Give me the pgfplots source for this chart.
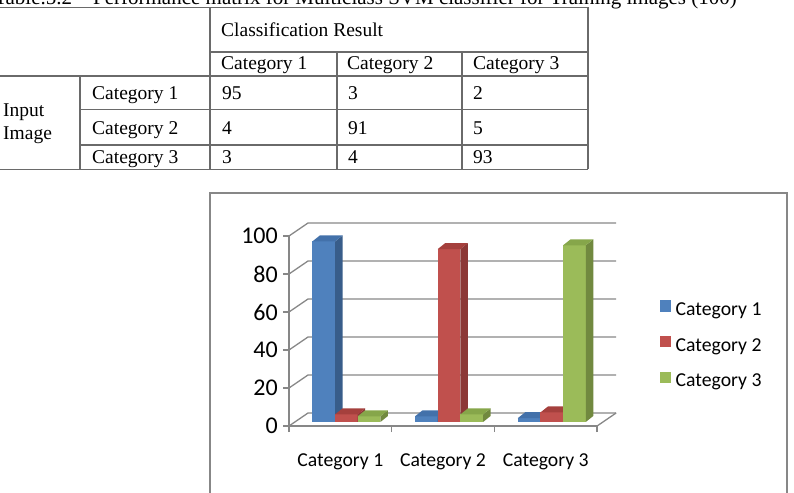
\documentclass[border=0pt]{standalone}
\usepackage{pgfplots}
\pgfplotsset{compat=1.18}
\usepackage{fontspec}
\setmainfont{Liberation Serif}
\newfontfamily\calfont{Carlito}
\newcommand\tabfont{\fontsize{19.5}{22.5}\selectfont}

\definecolor{cA}{HTML}{4F81BD}
\definecolor{cAs}{HTML}{385D8A}
\definecolor{cAt}{HTML}{4371AA}
\definecolor{cB}{HTML}{C0504D}
\definecolor{cBs}{HTML}{8C3836}
\definecolor{cBt}{HTML}{A5403D}
\definecolor{cC}{HTML}{9BBB59}
\definecolor{cCs}{HTML}{71893F}
\definecolor{cCt}{HTML}{86A64A}
\definecolor{gridc}{HTML}{878787}
\definecolor{tabc}{HTML}{6A6A6A}

% 3D prism drawn as plot mark at each data point (bar top on front plane)
\newcommand\prism[4]{%
  \pgfmathsetmacro\ph{\rawy*1.9}%
  \pgfmathsetmacro\pL{#4-11.35+6}%
  \pgfmathsetmacro\pR{#4+11.35+6}%
  \pgfmathsetmacro\pB{4-\ph}%
  \pgfsetfillcolor{#1}%
  \pgfpathrectanglecorners{\pgfpoint{\pL pt}{\pB pt}}{\pgfpoint{\pR pt}{4pt}}%
  \pgfusepath{fill}%
  \pgfsetfillcolor{#2}%
  \pgfpathmoveto{\pgfpoint{\pR pt}{4pt}}%
  \pgfpathlineto{\pgfpoint{\pR pt+7.5pt}{10pt}}%
  \pgfpathlineto{\pgfpoint{\pR pt+7.5pt}{\pB pt+6pt}}%
  \pgfpathlineto{\pgfpoint{\pR pt}{\pB pt}}%
  \pgfpathclose\pgfusepath{fill}%
  \pgfsetfillcolor{#3}%
  \pgfpathmoveto{\pgfpoint{\pL pt}{4pt}}%
  \pgfpathlineto{\pgfpoint{\pL pt+7.5pt}{10pt}}%
  \pgfpathlineto{\pgfpoint{\pR pt+7.5pt}{10pt}}%
  \pgfpathlineto{\pgfpoint{\pR pt}{4pt}}%
  \pgfpathclose\pgfusepath{fill}%
}
\pgfdeclareplotmark{prismA}{\prism{cA}{cAs}{cAt}{-22.7}}
\pgfdeclareplotmark{prismB}{\prism{cB}{cBs}{cBt}{0}}
\pgfdeclareplotmark{prismC}{\prism{cC}{cCs}{cCt}{22.7}}

\begin{document}
\begin{tikzpicture}
\useasboundingbox (0pt,0pt) rectangle (794pt,492pt);
\clip (0pt,0pt) rectangle (794pt,492pt);
% caption (cut at top, as in the reference)
\node[anchor=base east, inner sep=0pt, font=\fontsize{21}{24}\selectfont] at (737pt,487pt)
  {Table.5.2 – Performance matrix for Multiclass SVM classifier for Training images (100)};
% table rules
\begin{scope}[tabc, line width=1.1pt]
\draw (0pt,484.5pt) -- (588pt,484.5pt);
\draw (210pt,440pt) -- (588pt,440pt);
\draw (0pt,416pt) -- (588pt,416pt);
\draw (80pt,382.5pt) -- (588pt,382.5pt);
\draw (80pt,347pt) -- (588pt,347pt);
\draw (0pt,322.7pt) -- (588pt,322.7pt);
\draw (80pt,416pt) -- (80pt,322.7pt);
\draw (210pt,484.5pt) -- (210pt,322.7pt);
\draw (337pt,440pt) -- (337pt,322.7pt);
\draw (462pt,440pt) -- (462pt,322.7pt);
\draw (588pt,484.5pt) -- (588pt,322.7pt);
\end{scope}
\begin{scope}[every node/.style={anchor=base west, inner sep=0pt, font=\tabfont}]
\node at (221pt,455pt) {Classification Result};
\node at (221pt,422pt) {Category 1};
\node at (347pt,422pt) {Category 2};
\node at (473pt,422pt) {Category 3};
\node at (3pt,375pt) {Input};
\node at (3pt,352pt) {Image};
\node at (92pt,392pt) {Category 1};
\node at (92pt,357.5pt) {Category 2};
\node at (92pt,328pt) {Category 3};
\node at (222pt,392pt) {95};
\node at (348pt,392pt) {3};
\node at (473pt,392pt) {2};
\node at (222pt,357.5pt) {4};
\node at (348pt,357.5pt) {91};
\node at (473pt,357.5pt) {5};
\node at (222pt,328pt) {3};
\node at (348pt,328pt) {4};
\node at (473pt,328pt) {93};
\end{scope}
% chart frame
\draw[gridc, line width=1.5pt] (210pt,299pt) rectangle (787pt,-20pt);

\begin{axis}[
  at={(289pt,66pt)}, anchor=south west,
  x=102.7pt, y=1.9pt,
  xmin=-0.5, xmax=2.5, ymin=0, ymax=100,
  clip=false,
  axis x line*=bottom, axis y line*=left,
  axis line style={-, draw=gridc, line width=1.3pt},
  tick align=outside,
  major tick length=6pt,
  tick style={draw=gridc, line width=1.3pt},
  ytick={0,20,40,60,80,100},
  xtick={-0.5,0.5,1.5,2.5}, xticklabels={},
  extra x ticks={0,1,2},
  extra x tick labels={Category 1,Category 2,Category 3},
  extra x tick style={major tick length=0pt, xticklabel style={anchor=base, yshift=-41pt, inner sep=0pt, font=\calfont\fontsize{19.7}{20}\selectfont}},
  /pgf/number format/assume math mode=true,
  yticklabel style={anchor=east, inner sep=0pt, xshift=-5pt, font=\calfont\fontsize{24}{24}\selectfont},
  legend style={at={(1.2045,0.663)}, anchor=north west, draw=none, fill=none, inner sep=0pt,
    font=\calfont\fontsize{19.7}{20}\selectfont, row sep=16.5pt,
    nodes={inner sep=0pt, text height=13pt, text depth=4pt}},
  legend cell align=left,
]
\pgfplotsinvokeforeach{0,20,40,60,80,100}{
  \draw[gridc, line width=1.3pt] (axis cs:-0.5,#1) -- ([shift={(19pt,13pt)}]axis cs:-0.5,#1)
     -- ([shift={(19pt,13pt)}]axis cs:2.5,#1);
}
\draw[gridc, line width=1.3pt] (axis cs:2.5,0) -- ([shift={(19pt,13pt)}]axis cs:2.5,0);
\addplot[scatter, only marks, mark=prismA,
  scatter/@pre marker code/.code={\pgfscope},
  scatter/@post marker code/.code={\endpgfscope},
  visualization depends on={rawy \as \rawy},
  legend image code/.code={\fill[cA] (0pt,0pt) rectangle (10pt,10.5pt); \path (15pt,0pt);}]
  coordinates {(0,95) (1,3) (2,2)};
\addplot[scatter, only marks, mark=prismB,
  scatter/@pre marker code/.code={\pgfscope},
  scatter/@post marker code/.code={\endpgfscope},
  visualization depends on={rawy \as \rawy},
  legend image code/.code={\fill[cB] (0pt,0pt) rectangle (10pt,10.5pt); \path (15pt,0pt);}]
  coordinates {(0,4) (1,91) (2,5)};
\addplot[scatter, only marks, mark=prismC,
  scatter/@pre marker code/.code={\pgfscope},
  scatter/@post marker code/.code={\endpgfscope},
  visualization depends on={rawy \as \rawy},
  legend image code/.code={\fill[cC] (0pt,0pt) rectangle (10pt,10.5pt); \path (15pt,0pt);}]
  coordinates {(0,3) (1,4) (2,93)};
\legend{Category 1,Category 2,Category 3}
\end{axis}
\end{tikzpicture}
\end{document}
